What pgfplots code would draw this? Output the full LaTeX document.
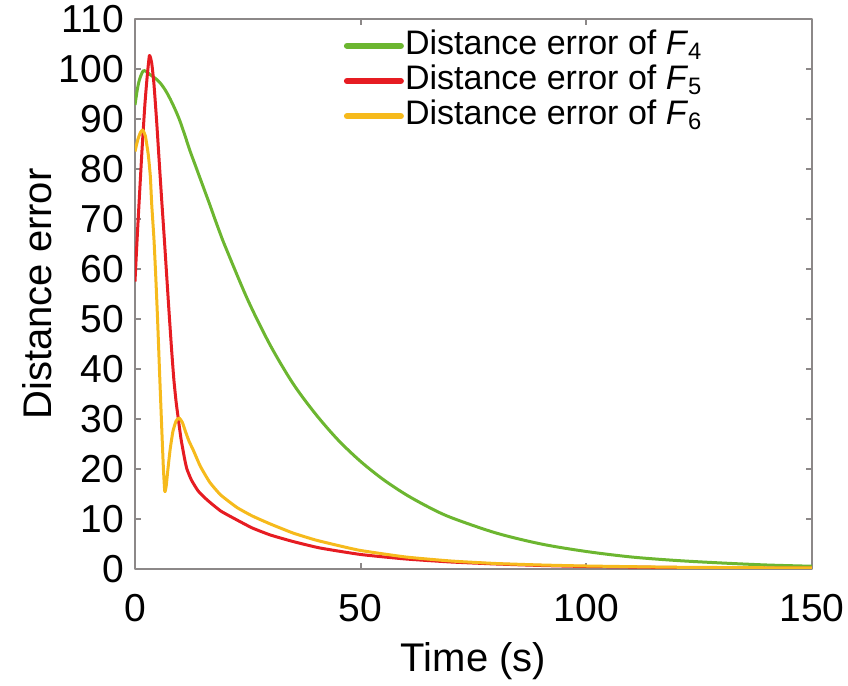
\documentclass[border=0pt]{standalone}
\usepackage{fontspec}
\setmainfont{Liberation Sans}
\usepackage{pgfplots}
\pgfplotsset{compat=1.18}
\definecolor{cgreen}{RGB}{108,182,48}
\definecolor{cred}{RGB}{230,28,34}
\definecolor{cyellow}{RGB}{246,186,28}
\definecolor{caxis}{RGB}{140,136,136}
\begin{document}
\begin{tikzpicture}
\useasboundingbox (-67.5pt,-58.5pt) rectangle (356.5pt,284.5pt);
\begin{axis}[
  at={(0,0)}, anchor=south west,
  scale only axis=true,
  width=338.5pt, height=275pt,
  xmin=0, xmax=150, ymin=0, ymax=110,
  xtick={0,50,100,150},
  ytick={0,10,...,110},
  tick align=inside,
  major tick length=3pt,
  axis line style={draw=caxis, line width=1.2pt},
  every tick/.style={draw=caxis, line width=1pt},
  tick label style={font=\fontsize{19.5}{23}\selectfont},
  /pgf/number format/assume math mode=true,
  xticklabel style={anchor=base, yshift=-26.5pt},
  yticklabel style={anchor=east, xshift=-2pt},
  label style={font=\fontsize{20}{24}\selectfont},
  xlabel={Time (s)},
  ylabel={Distance error},
  xlabel style={at={(axis description cs:0.5,0)}, anchor=base, yshift=-51.5pt},
  ylabel style={at={(axis description cs:-0.1226,0.5)}, anchor=base},
  legend style={draw=none, fill=none, at={(axis description cs:0.308,0.984)}, anchor=north west,
    font=\fontsize{17}{20}\selectfont, row sep=0pt, inner sep=0pt,
    nodes={inner sep=0.6pt, text height=12.5pt, text depth=3.9pt}},
  legend cell align=left,
  legend image code/.code={\draw[line width=3pt, line cap=round] (0pt,0pt) -- (27pt,0pt);},
  line join=round,
]
\addplot[cgreen, line width=1.5pt, smooth, tension=0.5] coordinates {
(0,92.8) (0.5,95.8) (1,97.9) (1.8,99.6) (2.5,99.5) (3.3,98.9) (4.4,98.2) (5.5,97.3) (6.7,95.8) (7.8,94.0) (9,91.7) (10,89.5) (11.1,86.6) (12.2,83.6) (13.3,80.9) (14.4,78.2) (15.5,75.5) (16.6,72.8) (17.7,70.0) (18.8,67.3) (20,64.5) (25,53.8) (30,44.7) (35,37.1) (40,31.0) (45,25.8) (50,21.5) (55,17.9) (60,14.9) (65,12.4) (70,10.3) (80,7.2) (90,5.0) (100,3.5) (110,2.4) (120,1.7) (130,1.2) (140,0.8) (150,0.55)
};
\addlegendentry{Distance error of \textit{F}\textsubscript{4}}
\addplot[cred, line width=1.5pt, smooth, tension=0.3] coordinates {
(0,57.5) (0.5,66.5) (1.1,76.5) (1.6,84.5) (2.2,93) (2.7,98.5) (3.2,102.7) (3.7,101.2) (4.2,97) (4.8,89.5) (5.4,81) (5.9,74) (6.5,66) (7.0,59) (7.5,52) (8.1,44) (8.6,38) (9.1,33.5) (9.6,30) (10.2,26) (11,22) (11.5,20) (12.5,17.8) (14,15.6) (16,13.8) (19,11.6) (22.6,9.8) (26,8.2) (30,6.8) (35,5.5) (41,4.2) (50,2.9) (60,2.0) (70,1.4) (80,1.0) (90,0.7) (100,0.5) (120,0.3) (150,0.15)
};
\addlegendentry{Distance error of \textit{F}\textsubscript{5}}
\addplot[cyellow, line width=1.5pt, smooth, tension=0.3] coordinates {
(0,83.5) (0.6,85.8) (1.2,87.3) (1.7,87.8) (2.3,86.6) (2.95,82.8) (3.4,78.5) (3.7,73) (4.2,66) (4.6,58.5) (5.0,50) (5.5,38) (6.0,26.5) (6.3,20) (6.6,15.5) (6.9,16.5) (7.3,20) (7.8,24) (8.4,27.5) (9.1,29.6) (9.8,30.2) (10.5,29.3) (11.3,27.2) (12.0,25.5) (12.9,23.8) (14.5,20.5) (16.6,17.3) (19,14.8) (22.6,12.3) (26,10.6) (30,9.0) (35,7.2) (40,5.8) (45,4.7) (50,3.7) (60,2.4) (70,1.6) (80,1.1) (90,0.8) (100,0.6) (120,0.35) (150,0.2)
};
\addlegendentry{Distance error of \textit{F}\textsubscript{6}}
\end{axis}
\end{tikzpicture}
\end{document}
